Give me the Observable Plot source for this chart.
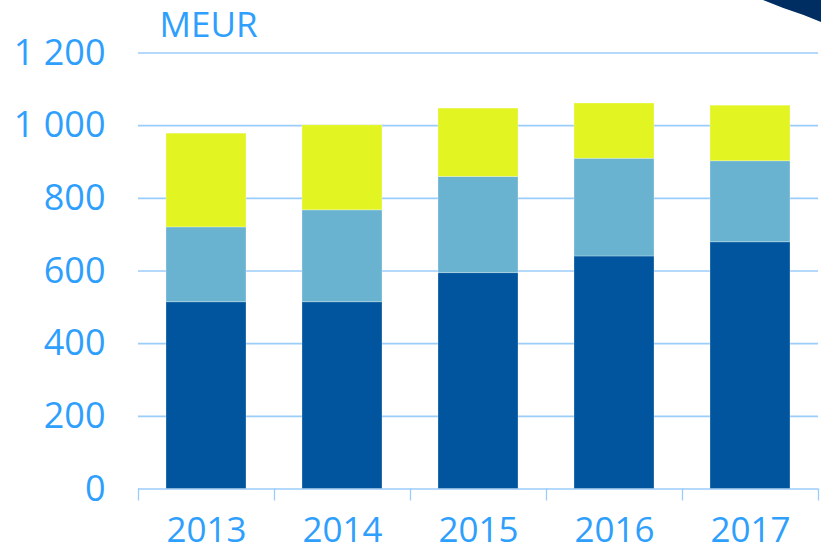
<!DOCTYPE html>
<html>
<head>
<meta charset="utf-8">
<script src="https://cdn.jsdelivr.net/npm/d3@7"></script>
<script src="https://cdn.jsdelivr.net/npm/@observablehq/plot@0.6"></script>
<style>
  html, body { margin: 0; padding: 0; background: #ffffff; }
  #wrap { position: relative; width: 821px; height: 551px; overflow: hidden; background: #ffffff; }
  #deco { position: absolute; top: 0; right: 0; width: 58px; height: 22px; background: #002d62;
          clip-path: polygon(0 0, 100% 0, 100% 100%, 70% 68%, 35% 36%); }
</style>
</head>
<body>
<div id="wrap"><div id="deco"></div></div>
<script>
const years = ["2013", "2014", "2015", "2016", "2017"];
const seriesNames = ["Series 1", "Series 2", "Series 3"];
const series1Values = [514, 514, 594, 640, 679];
const series2Values = [206, 253, 265, 269, 223];
const series3Values = [258, 234, 188, 152, 153];
const yTicks = [0, 200, 400, 600, 800, 1000, 1200];
const yTickLabels = ["0", "200", "400", "600", "800", "1 000", "1 200"];
const unitLabel = ["MEUR"];

const seriesColors = ["#00559e", "#69b3d1", "#e2f522"];
const textColor = "#2f9ffd";
const gridColor = "#9bcdfb";

const valuesBySeries = [series1Values, series2Values, series3Values];
const data = [];
years.forEach((year, i) => {
  seriesNames.forEach((s, j) => data.push({ year, series: s, value: valuesBySeries[j][i] }));
});

const chart = Plot.plot({
  width: 821,
  height: 551,
  marginLeft: 138,
  marginRight: 3,
  marginTop: 52.5,
  marginBottom: 62.5,
  style: { fontFamily: "'Open Sans', sans-serif", fontSize: "36px", color: textColor, background: "transparent" },
  x: { domain: years, paddingInner: 0.41, paddingOuter: 0.205, axis: null },
  y: { domain: [0, 1200], axis: null },
  color: { domain: seriesNames, range: seriesColors },
  marks: [
    Plot.ruleY(yTicks, { stroke: gridColor, strokeWidth: 1.6 }),
    Plot.barY(data, { x: "year", y: "value", fill: "series", stroke: "#ffffff", strokeOpacity: 0.35, strokeWidth: 0.8 }),
    Plot.axisY({ ticks: yTicks, tickFormat: d => yTickLabels[yTicks.indexOf(d)], tickSize: 0, tickPadding: 33, fontSize: 36, label: null, color: textColor }),
    Plot.axisX({ ticks: years, tickSize: 12, tickFormat: () => "", dx: -68, label: null, color: gridColor, strokeWidth: 1.3 }),
    Plot.axisX({ ticks: years.slice(-1), tickSize: 12, tickFormat: () => "", dx: 68, label: null, color: gridColor, strokeWidth: 1.3 }),
    Plot.axisX({ ticks: years, tickSize: 0, tickPadding: 28, fontSize: 35, label: null, color: textColor }),
    Plot.text(unitLabel, { frameAnchor: "top-left", dx: 21, dy: -16, lineAnchor: "bottom", textAnchor: "start", fontSize: 35, fill: textColor })
  ]
});
document.getElementById("wrap").insertBefore(chart, document.getElementById("deco"));
</script>
</body>
</html>
